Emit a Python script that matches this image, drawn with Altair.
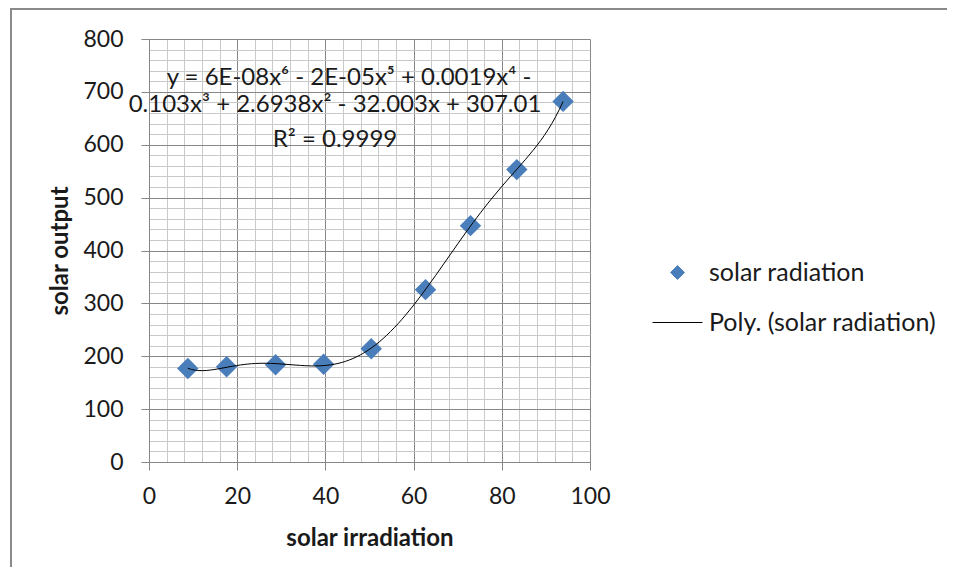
import altair as alt
import pandas as pd

# ---- data ----
irradiation = [8.8, 17.6, 28.7, 39.6, 50.4, 62.7, 72.9, 83.4, 93.9]
output = [177, 180, 184, 185, 214, 326, 447, 553, 682]
series_names = ["solar radiation", "Poly. (solar radiation)"]
series_colors = ["#4a7ebb", "#000000"]
x_ticks = list(range(0, 101, 4))
y_ticks = list(range(0, 801, 20))
equation_lines = [
    "y = 6E-08x⁶ - 2E-05x⁵ + 0.0019x⁴ -",
    "0.103x³ + 2.6938x² - 32.003x + 307.01",
    "R² = 0.9999",
]

df = pd.DataFrame({"x": irradiation, "y": output, "series": series_names[0]})

FONT = "Lato"
TXT = "#1a1a1a"
MAJOR = "#878787"
MINOR = "#c9c9c9"
FRAME = "#8a8a8a"
W, H = 441, 423

x_enc = alt.X(
    "x:Q",
    scale=alt.Scale(domain=[0, 100], nice=False),
    axis=alt.Axis(
        values=x_ticks,
        labelExpr="datum.value % 20 === 0 ? datum.label : ''",
        gridColor={"condition": {"test": "datum.value % 20 === 0", "value": MAJOR}, "value": MINOR},
        tickOpacity={"condition": {"test": "datum.value % 20 === 0", "value": 1}, "value": 0},
        tickSize=8, tickColor=MAJOR, domainColor=MAJOR, gridWidth=1,
        labelPadding=15, labelFont=FONT, labelFontSize=23, labelColor=TXT,
        title="solar irradiation", titleFont=FONT, titleFontSize=24, titleFontWeight="bold",
        titleColor=TXT, titlePadding=18, labelFlush=False, labelOverlap=False,
    ),
)
y_enc = alt.Y(
    "y:Q",
    scale=alt.Scale(domain=[0, 800], nice=False),
    axis=alt.Axis(
        values=y_ticks,
        labelExpr="datum.value % 100 === 0 ? datum.label : ''",
        gridColor={"condition": {"test": "datum.value % 100 === 0", "value": MAJOR}, "value": MINOR},
        tickOpacity={"condition": {"test": "datum.value % 100 === 0", "value": 1}, "value": 0},
        tickSize=8, tickColor=MAJOR, domainColor=MAJOR, gridWidth=1,
        labelPadding=18, labelFont=FONT, labelFontSize=23, labelColor=TXT,
        title="solar output", titleFont=FONT, titleFontSize=24, titleFontWeight="bold",
        titleColor=TXT, titlePadding=10, labelFlush=False, labelOverlap=False,
    ),
)

legend = alt.Legend(
    title=None, orient="none", legendX=503, legendY=208,
    symbolSize=alt.ExprRef("datum.value === 'solar radiation' ? 190 : 2500"),
    symbolStrokeColor=alt.ExprRef("datum.value === 'solar radiation' ? '#4a7ebb' : '#000000'"),
    symbolStrokeWidth=1, symbolOpacity=1,
    rowPadding=11, labelOffset=6, labelLimit=400,
    labelFont=FONT, labelFontSize=25, labelColor=TXT,
)
color_enc = alt.Color("series:N", scale=alt.Scale(domain=series_names, range=series_colors), legend=legend)
shape_enc = alt.Shape("series:N", scale=alt.Scale(domain=series_names, range=["diamond", "stroke"]), legend=legend)

points = alt.Chart(df).mark_point(filled=True, size=460, opacity=1).encode(
    x=x_enc, y=y_enc, color=color_enc, shape=shape_enc
)

trend = (
    alt.Chart(df)
    .transform_regression("x", "y", method="poly", order=6)
    .transform_calculate(series="'Poly. (solar radiation)'")
    .mark_line(strokeWidth=1, interpolate="monotone")
    .encode(x=x_enc, y=y_enc, color=color_enc)
)

# outer chart frame (top and left edges visible in the reference)
one = pd.DataFrame({"a": [0]})
frame_top = alt.Chart(one).mark_rule(stroke=FRAME, strokeWidth=2).encode(
    x=alt.value(-138), x2=alt.value(900), y=alt.value(-30)
)
frame_left = alt.Chart(one).mark_rule(stroke=FRAME, strokeWidth=2).encode(
    x=alt.value(-138), y=alt.value(-31), y2=alt.value(700)
)

eq_pos = [(200, 46), (186, 73), (186, 108)]
eq_layers = []
for line, (cx, cy) in zip(equation_lines, eq_pos):
    eq_layers.append(
        alt.Chart(pd.DataFrame({"t": [line]}))
        .mark_text(font=FONT, fontSize=24, align="center", baseline="alphabetic", color=TXT)
        .encode(x=alt.value(cx), y=alt.value(cy), text="t:N")
    )

chart = (
    alt.layer(frame_top, frame_left, points, trend, *eq_layers)
    .properties(
        width=W, height=H,
        autosize=alt.AutoSizeParams(type="none"),
        padding={"left": 141, "top": 31, "right": 357, "bottom": 105},
        background="white",
    )
    .configure_view(stroke=None)
)

chart.save("out.html", embed_options={"renderer": "svg", "actions": False})
